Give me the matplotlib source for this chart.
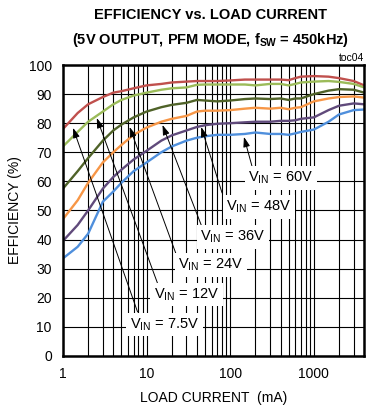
import numpy as np
import matplotlib
matplotlib.use("Agg")
import matplotlib.pyplot as plt
from matplotlib.ticker import FixedLocator, NullFormatter, FixedFormatter

plt.rcParams['font.family'] = ['Liberation Sans', 'DejaVu Sans']
plt.rcParams['mathtext.fontset'] = 'custom'
plt.rcParams['mathtext.rm'] = 'Liberation Sans'
plt.rcParams['mathtext.bf'] = 'Liberation Sans:bold'
plt.rcParams['mathtext.default'] = 'rm'

# load current (mA)
load = [1, 1.5, 2, 3, 4, 5, 7, 10, 15, 20, 30, 40, 50, 70, 100, 150, 200,
        300, 400, 500, 600, 700, 1000, 1500, 2000, 3000, 4000]

eff_7v5 = [78, 83.5, 86.5, 89, 90.5, 91, 92, 93, 93.5, 94, 94.3, 94.5, 94.5, 94.5, 94.7,
           95, 95, 95, 95, 94.8, 95.5, 96, 96.2, 96, 95.5, 94.5, 93]
eff_12v = [72, 77, 80.5, 84, 86.5, 88, 89.5, 90.5, 91.5, 92, 92.3, 93.2, 93.3, 93.3, 93.3,
           93.3, 93, 93.5, 93.5, 93, 93.5, 94, 94.3, 94.5, 94.2, 93.5, 92.3]
eff_24v = [57.5, 63.5, 68, 74, 77.5, 79.5, 82, 84, 85.5, 86.3, 87, 88, 87.8, 87.5, 87.8,
           88.3, 88.5, 88.3, 88.5, 88, 88.5, 88.5, 90, 91.2, 91.7, 91.5, 90.5]
eff_36v = [47, 53.5, 59.5, 66.5, 70, 72.5, 76, 78.5, 80.5, 81.5, 82.5, 84, 84.3, 84.3, 84.5,
           85, 85.3, 85, 85.3, 84.8, 85.3, 85.5, 87.5, 88.5, 89, 89.2, 88.8]
eff_48v = [39.5, 45, 50, 57.5, 61.5, 64, 67.5, 70.5, 74, 75.8, 77.5, 78.7, 79.3, 79.8, 80,
           80.3, 80.5, 80.5, 80.8, 80.8, 81, 81.5, 82, 84.5, 86, 86.8, 86.5]
eff_60v = [33.5, 37.5, 42, 53, 56.5, 59.5, 63.5, 66.5, 70, 72, 74, 75, 75.5, 76, 76,
           76.3, 76.8, 76.3, 76.3, 76, 76.5, 77, 77.8, 80.5, 83, 84.5, 84.7]

series = [eff_7v5, eff_12v, eff_24v, eff_36v, eff_48v, eff_60v]
colors = ['#c0504d', '#9bbb59', '#4f6228', '#f79646', '#604a7b', '#4f8fdc']

labels = ['7.5V', '12V', '24V', '36V', '48V', '60V']
label_pos = [(16.4, 10.7), (30, 21), (59, 31.3), (108, 40.9), (221, 51.2), (405, 61.2)]
arrow_head = [(1.32, 78.4), (2.54, 81.8), (6.27, 78.7), (15.5, 79.4), (45, 78.7), (146, 75.3)]
arrow_tail = [(7.8, 15.1), (13.5, 25), (23.4, 33.7), (45, 45), (80, 56), (183, 65)]

fig = plt.figure(figsize=(3.66, 4.09), dpi=100)
ax = fig.add_axes([0.172, 0.130, 0.823, 0.711])

for y, c in zip(series, colors):
    ax.plot(load, y, color=c, lw=1.7, zorder=3, solid_joinstyle='round')

ax.set_xscale('log')
ax.set_xlim(1, 4000)
ax.set_ylim(0, 100)
ax.set_yticks(range(0, 101, 10))
ax.xaxis.set_major_locator(FixedLocator([1, 10, 100, 1000]))
ax.xaxis.set_major_formatter(FixedFormatter(['1', '10', '100', '1000']))
minors = [m * 10 ** e for e in range(0, 4) for m in range(2, 10) if m * 10 ** e <= 4000]
ax.xaxis.set_minor_locator(FixedLocator(minors))
ax.xaxis.set_minor_formatter(NullFormatter())
ax.grid(which='both', color='black', lw=0.8, zorder=1)
ax.tick_params(which='both', length=0, labelsize=10, pad=8)
for s in ax.spines.values():
    s.set_linewidth(1.8)
    s.set_zorder(5)

for lab, pos, head, tail in zip(labels, label_pos, arrow_head, arrow_tail):
    ax.annotate('', xy=head, xytext=tail,
                arrowprops=dict(arrowstyle='-|>,head_length=0.6,head_width=0.2',
                                color='black', lw=0.7, shrinkA=0, shrinkB=0), zorder=4)
    ax.text(pos[0], pos[1], r'$\mathregular{V_{IN}}$ = ' + lab, fontsize=10.5,
            ha='center', va='center', zorder=4,
            bbox=dict(facecolor='white', edgecolor='none', pad=2.5))

ax.set_xlabel('LOAD CURRENT  (mA)', fontsize=10, labelpad=7)
ax.set_ylabel('EFFICIENCY (%)', fontsize=10, labelpad=5)
fig.text(0.575, 0.963, 'EFFICIENCY vs. LOAD CURRENT', ha='center', va='center',
         fontsize=10.5, fontweight='bold')
fig.text(0.575, 0.902, r'(5V OUTPUT, PFM MODE, f$_{\mathbf{SW}}$ = 450kHz)', ha='center',
         va='center', fontsize=10.5, fontweight='bold')
fig.text(0.995, 0.857, 'toc04', ha='right', va='center', fontsize=7.5)

fig.savefig('out.png', dpi=100)
